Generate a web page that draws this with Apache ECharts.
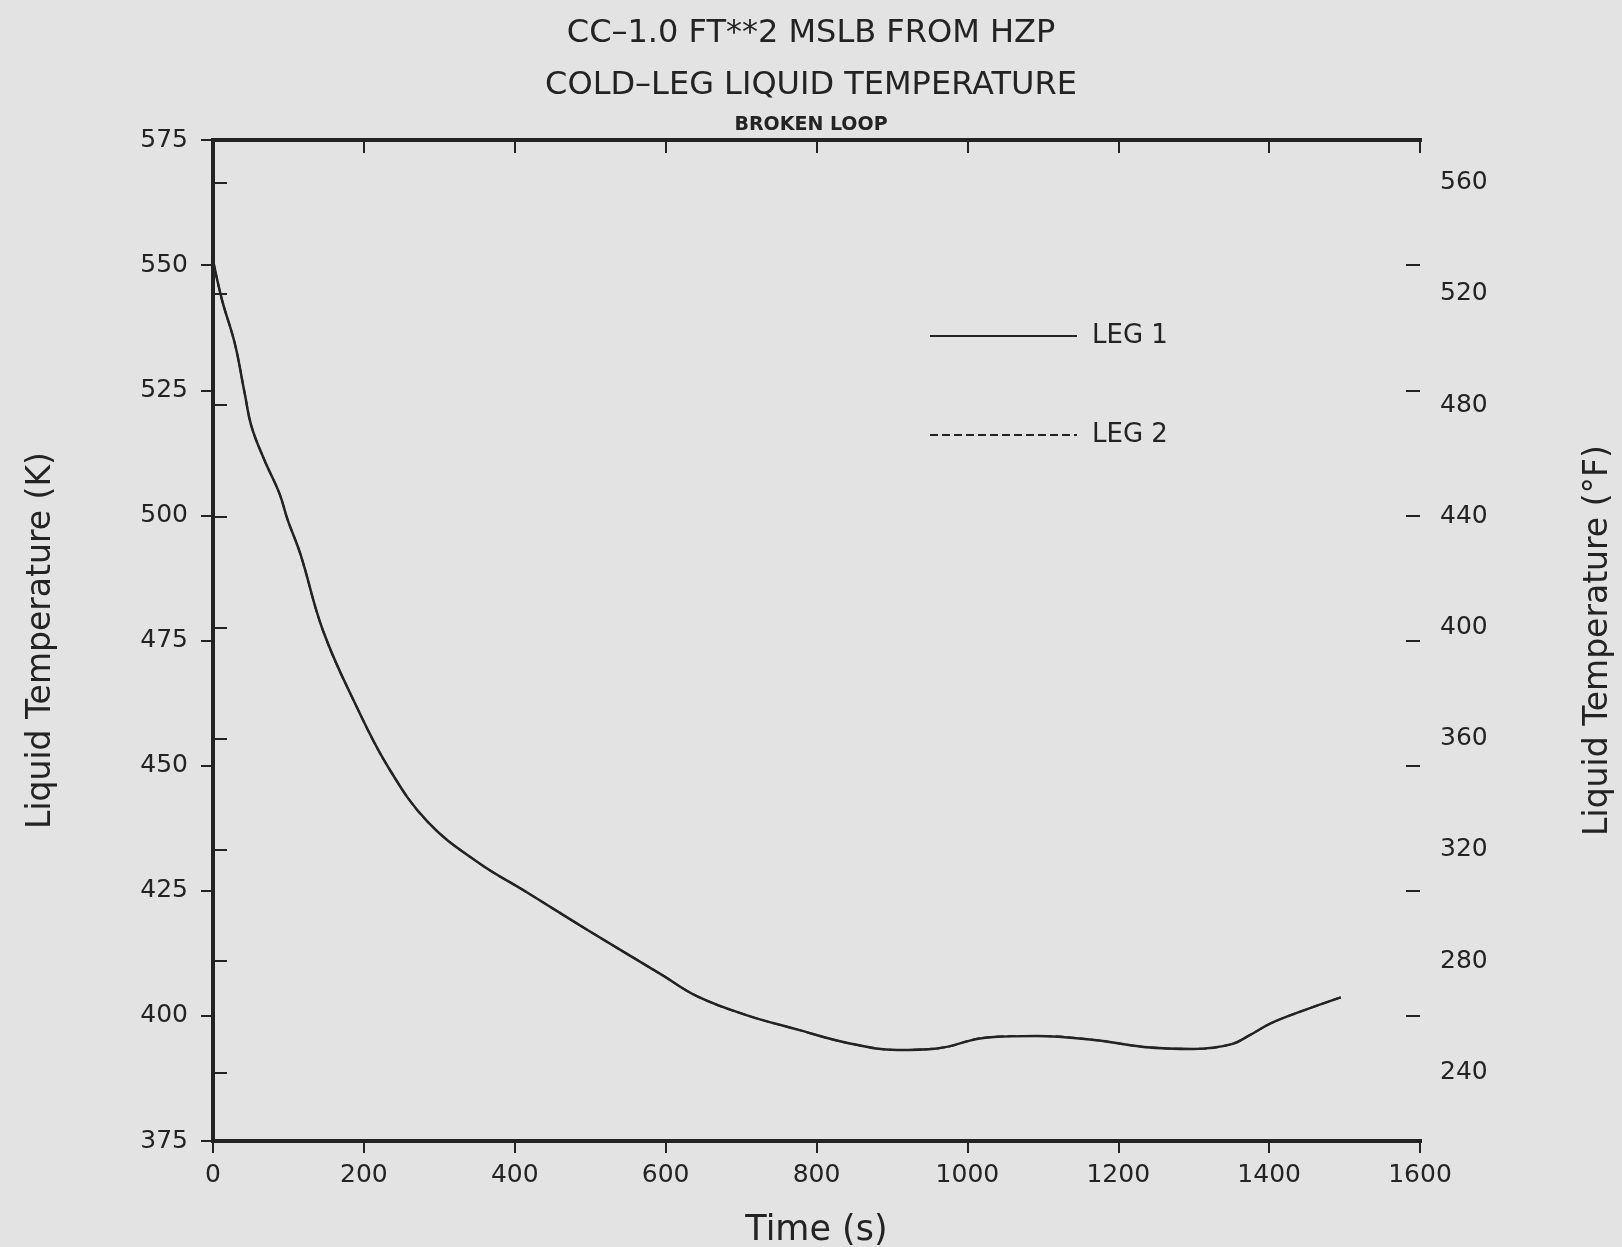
<!DOCTYPE html>
<html>
<head>
<meta charset="utf-8">
<title>Cold-leg liquid temperature</title>
<script src="https://cdn.jsdelivr.net/npm/echarts@6.0.0/dist/echarts.min.js"></script>
<style>
  html, body { margin: 0; padding: 0; background: #e3e3e3; }
  #chart { width: 1622px; height: 1247px; }
</style>
</head>
<body>
<div id="chart"></div>
<script>
// Time after break (s)
const timeSec = [0, 12, 29, 42, 51, 68, 88, 99, 116, 146, 189, 233, 285, 351, 417, 497,
  594, 642, 708, 774, 841, 907, 960, 1026, 1092, 1168, 1234, 1300, 1349, 1375, 1402, 1446, 1495];

// Cold-leg liquid temperature, loop legs (K)
const leg1Temp = [551.0, 543.0, 534.3, 524.4, 517.8, 511.1, 504.4, 499.1, 492.2, 476.9, 462.2,
  449.5, 438.7, 430.7, 424.6, 417.1, 408.3, 403.9, 400.1, 397.3, 394.6, 393.2, 393.5, 395.7,
  396.0, 395.2, 393.8, 393.4, 394.3, 396.2, 398.5, 401.1, 403.7];
const leg2Temp = [551.0, 543.0, 534.3, 524.4, 517.8, 511.1, 504.4, 499.1, 492.2, 476.9, 462.2,
  449.5, 438.7, 430.7, 424.6, 417.1, 408.3, 403.9, 400.1, 397.3, 394.6, 393.2, 393.5, 395.7,
  396.0, 395.2, 393.8, 393.4, 394.3, 396.2, 398.5, 401.1, 403.7];

// Axis ranges and ticks
const timeRange = [0, 1600];
const timeStep = 200;
const kelvinRange = [375, 575];
const kelvinStep = 25;
const fahrenheitTicks = [240, 280, 320, 360, 400, 440, 480, 520, 560];

const kToF = k => k * 1.8 - 459.67;
const fRange = [kToF(kelvinRange[0]), kToF(kelvinRange[1])];

const ink = '#232323';
const font = 'DejaVu Sans';

const pairs = (xs, ys) => xs.map((x, i) => [x, ys[i]]);

const frameLine = { lineStyle: { color: ink, width: 4, cap: 'square' } };
const tickStyle = { color: ink, width: 2 };
const tickLabel = { color: ink, fontSize: 25, fontFamily: font, formatter: v => String(v) };

const chart = echarts.init(document.getElementById('chart'), null, { renderer: 'canvas' });

chart.setOption({
  animation: false,
  backgroundColor: '#e3e3e3',
  title: [
    { text: 'CC–1.0 FT**2 MSLB FROM HZP', left: 'center', top: 16, padding: 0,
      textStyle: { fontSize: 32, lineHeight: 36, fontWeight: 'normal', color: ink, fontFamily: font } },
    { text: 'COLD–LEG LIQUID TEMPERATURE', left: 'center', top: 68, padding: 0,
      textStyle: { fontSize: 32, lineHeight: 36, fontWeight: 'normal', color: ink, fontFamily: font } },
    { text: 'BROKEN LOOP', left: 'center', top: 115, padding: 0,
      textStyle: { fontSize: 19, lineHeight: 20, fontWeight: 'bold', color: ink, fontFamily: font } }
  ],
  legend: {
    orient: 'vertical',
    left: 929,
    top: 323,
    itemWidth: 147,
    itemHeight: 26,
    itemGap: 73,
    padding: 0,
    itemStyle: { opacity: 0 },
    textStyle: { fontSize: 26, color: ink, fontFamily: font, padding: [0, 0, 0, 10] },
    data: ['LEG 1', 'LEG 2']
  },
  grid: {
    left: 213, right: 202, top: 140, bottom: 106,
    containLabel: false,
    outerBoundsMode: 'none'
  },
  xAxis: [
    {
      type: 'value', position: 'bottom',
      min: timeRange[0], max: timeRange[1], interval: timeStep,
      axisLine: frameLine,
      axisTick: { inside: false, length: 12, lineStyle: tickStyle },
      axisLabel: Object.assign({ margin: 22 }, tickLabel),
      splitLine: { show: false },
      name: 'Time (s)', nameLocation: 'middle', nameGap: 72,
      nameTextStyle: { fontSize: 35, color: ink, fontFamily: font }
    },
    {
      type: 'value', position: 'top',
      min: timeRange[0], max: timeRange[1], interval: timeStep,
      axisLine: frameLine,
      axisTick: { inside: true, length: 13, lineStyle: tickStyle },
      axisLabel: { show: false },
      splitLine: { show: false }
    }
  ],
  yAxis: [
    {
      type: 'value', position: 'left',
      min: kelvinRange[0], max: kelvinRange[1], interval: kelvinStep,
      axisLine: frameLine,
      axisTick: { inside: false, length: 12, lineStyle: tickStyle },
      axisLabel: Object.assign({ margin: 25 }, tickLabel),
      splitLine: { show: false },
      name: 'Liquid Temperature (K)', nameLocation: 'middle', nameGap: 155,
      nameTextStyle: { fontSize: 33, color: ink, fontFamily: font }
    },
    {
      type: 'value', position: 'right',
      min: fRange[0], max: fRange[1],
      axisLine: frameLine,
      axisTick: { inside: false, length: 12, lineStyle: tickStyle, customValues: fahrenheitTicks },
      axisLabel: Object.assign({ margin: 20, customValues: fahrenheitTicks }, tickLabel),
      splitLine: { show: false },
      name: 'Liquid Temperature (°F)', nameLocation: 'middle', nameGap: 162,
      nameTextStyle: { fontSize: 33, color: ink, fontFamily: font }
    },
    {
      // Fahrenheit marks on the inside of the left edge
      type: 'value', position: 'left',
      min: fRange[0], max: fRange[1],
      axisLine: { show: false },
      axisTick: { inside: true, length: 14, lineStyle: tickStyle, customValues: fahrenheitTicks },
      axisLabel: { show: false },
      splitLine: { show: false }
    },
    {
      // Kelvin marks on the inside of the right edge
      type: 'value', position: 'right',
      min: kelvinRange[0], max: kelvinRange[1], interval: kelvinStep,
      axisLine: { show: false },
      axisTick: { inside: true, length: 14, lineStyle: tickStyle },
      axisLabel: { show: false },
      splitLine: { show: false }
    }
  ],
  series: [
    {
      name: 'LEG 1', type: 'line',
      xAxisIndex: 0, yAxisIndex: 0,
      data: pairs(timeSec, leg1Temp),
      symbol: 'none', smooth: 0.4,
      lineStyle: { color: ink, width: 2.5, type: 'solid' },
      itemStyle: { color: ink }
    },
    {
      name: 'LEG 2', type: 'line',
      xAxisIndex: 0, yAxisIndex: 0,
      data: pairs(timeSec, leg2Temp),
      symbol: 'none', smooth: 0.4,
      lineStyle: { color: ink, width: 2, type: [8, 4] },
      itemStyle: { color: ink }
    }
  ]
});
</script>
</body>
</html>
